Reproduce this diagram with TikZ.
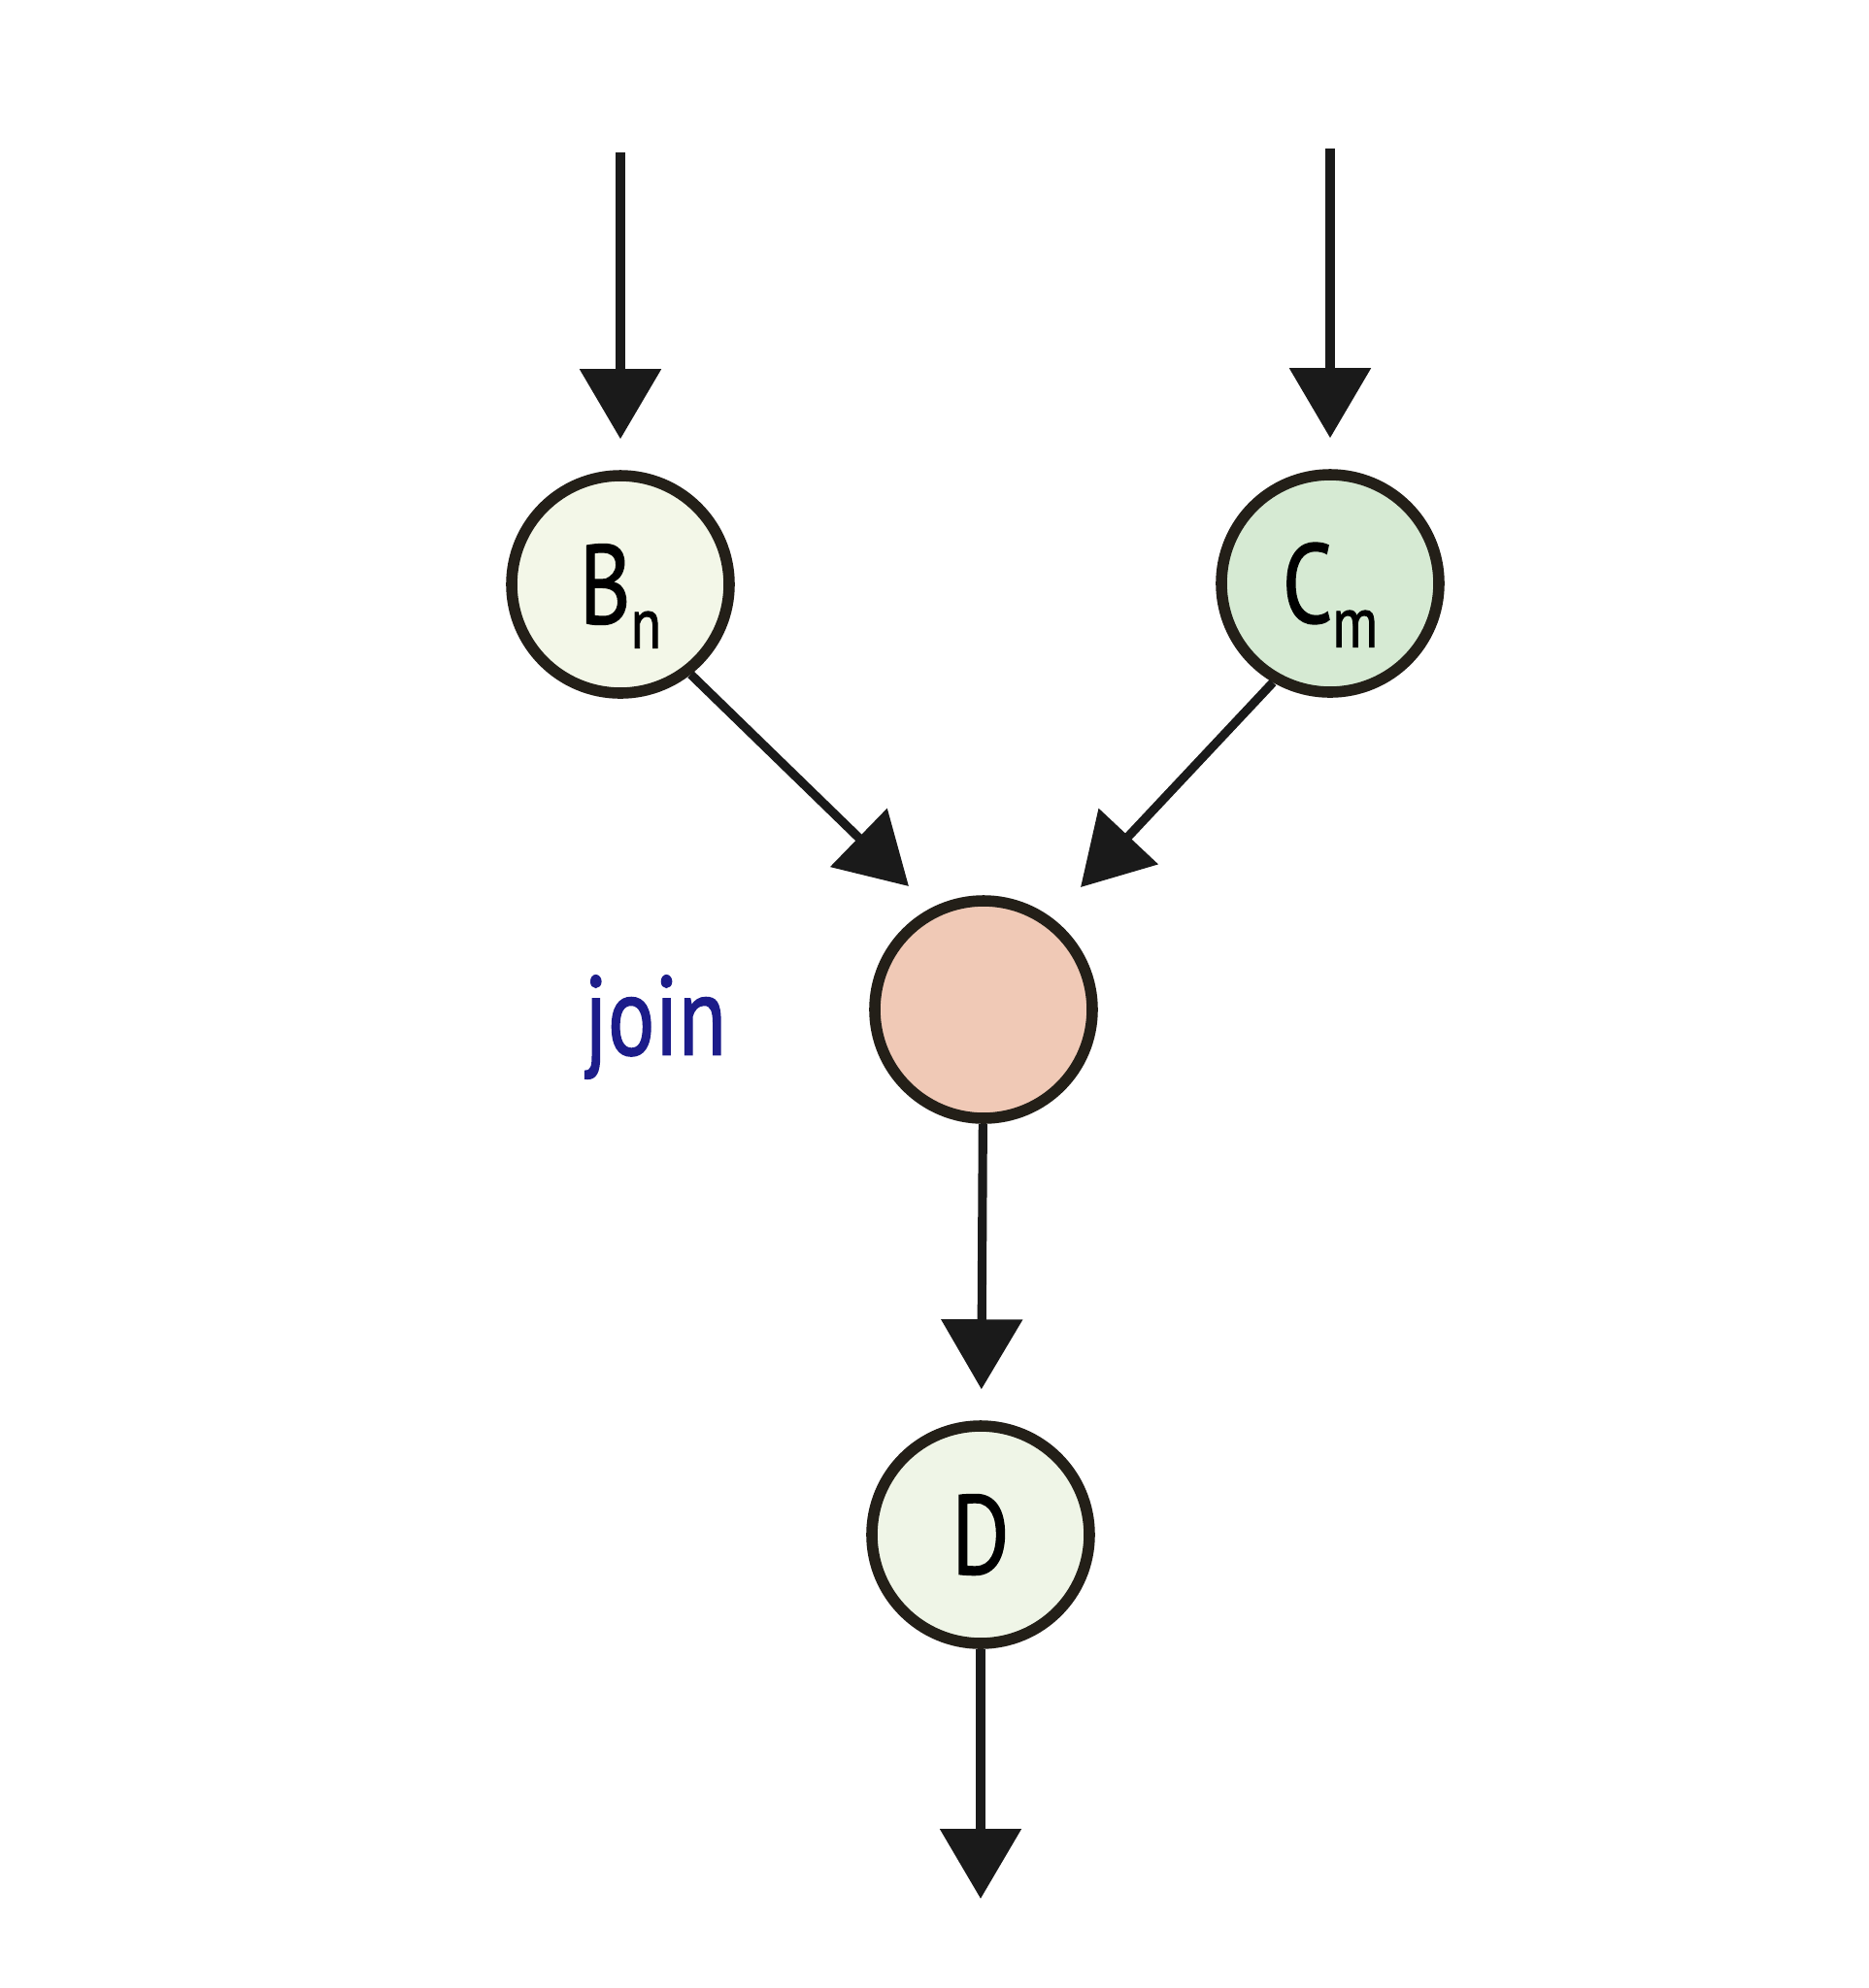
\documentclass[tikz,border=0pt]{standalone}
\usepackage{fontspec}
\usepackage{tikz}
\usetikzlibrary{arrows.meta}

\newfontfamily\condfont[FakeStretch=0.78,FakeBold=1.2]{PT Sans}
\newcommand{\lowsub}[1]{\raisebox{-0.25cm}[0pt][0pt]{\fontsize{21}{21}\selectfont #1}}

\definecolor{ringcol}{HTML}{231F18}
\definecolor{linecol}{HTML}{1A1A1A}
\definecolor{bfill}{HTML}{F3F7E8}
\definecolor{cfill}{HTML}{D6EAD3}
\definecolor{jfill}{HTML}{F0C9B6}
\definecolor{dfill}{HTML}{EFF5E7}
\definecolor{joincol}{HTML}{1C1C8A}

\begin{document}
\begin{tikzpicture}[
  state/.style={shape=circle,draw=ringcol,line width=3.3pt,minimum size=2.24cm,inner sep=0pt,
    font=\condfont\fontsize{33}{36}\selectfont},
  flow/.style={line width=2.6pt,color=linecol,-{Triangle[length=0.72cm,width=0.82cm]},shorten >=0.32cm}
]
\useasboundingbox (0,0) rectangle (19.25,-20.48);

\node[state,fill=bfill] (B) at (6.39,-6.02) {B\lowsub{n}};
\node[state,fill=cfill] (C) at (13.70,-6.01) {C\lowsub{m}};
\node[state,fill=jfill] (J) at (10.13,-10.40) {};
\node[state,fill=dfill] (D) at (10.10,-15.81) {D};
\node[font=\condfont\fontsize{33}{36}\selectfont,text=joincol] (joinlbl) at (6.75,-10.58) {join};

\coordinate (inB) at (6.39,-1.57);
\coordinate (inC) at (13.70,-1.53);
\coordinate (tipB) at (9.36,-9.13);
\coordinate (tipC) at (11.13,-9.14);
\coordinate (out) at (10.10,-19.88);

\draw [flow] (inB) -- (B);
\draw [flow] (inC) -- (C);
\draw [flow,shorten >=0pt] (B.-52) -- (tipB);
\draw [flow,shorten >=0pt] (C.-120) -- (tipC);
\draw [flow] (J) -- (D);
\draw [flow] (D) -- (out);
\end{tikzpicture}
\end{document}
